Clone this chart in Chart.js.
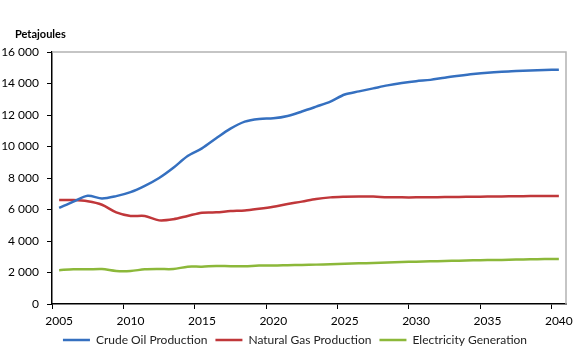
<!DOCTYPE html>
<html>
<head>
<meta charset="utf-8">
<script src="https://cdn.jsdelivr.net/npm/chart.js@4.4.1/dist/chart.umd.min.js"></script>
<style>
  html, body { margin: 0; padding: 0; background: #fff; }
  #wrap { width: 580px; height: 357px; position: relative; }
</style>
</head>
<body>
<div id="wrap"><canvas id="energyChart"></canvas></div>
<script>
// Years on the x axis
const years = [];
for (let y = 2005; y <= 2040; y++) years.push(String(y));

// Series (petajoules)
const crudeOil = [6100, 6500, 6870, 6700, 6850, 7100, 7500, 8000, 8650, 9400,
  9880, 10520, 11130, 11580, 11750, 11790, 11940, 12220, 12530, 12850,
  13300, 13500, 13690, 13880, 14030, 14150, 14230, 14370, 14490, 14600,
  14690, 14750, 14790, 14830, 14860, 14880];
const naturalGas = [6600, 6600, 6520, 6300, 5820, 5590, 5590, 5310, 5380, 5590,
  5800, 5820, 5900, 5940, 6050, 6180, 6350, 6500, 6670, 6770,
  6810, 6830, 6820, 6780, 6770, 6770, 6780, 6790, 6800, 6810,
  6820, 6830, 6840, 6850, 6860, 6860];
const electricity = [2150, 2200, 2200, 2220, 2100, 2100, 2200, 2220, 2220, 2370,
  2370, 2420, 2400, 2400, 2440, 2440, 2460, 2480, 2500, 2530,
  2560, 2580, 2600, 2630, 2660, 2690, 2710, 2730, 2750, 2770,
  2790, 2800, 2820, 2840, 2850, 2860];
const yTicks = [0, 2000, 4000, 6000, 8000, 10000, 12000, 14000, 16000];

const font = 'Lato, "Open Sans", sans-serif';

// space as thousands separator, e.g. 16 000
function fmt(v) {
  return String(v).replace(/\B(?=(\d{3})+(?!\d))/g, ' ');
}

// gray box on top/right of the plot, plus the unit label
const framePlugin = {
  id: 'frame',
  afterLayout(chart) {
    // legend sits a bit right of centre in the original
    if (chart.legend) {
      chart.legend.left += 12;
      chart.legend.right += 12;
      chart.legend.top -= 1;
      chart.legend.bottom -= 1;
    }
  },
  afterDatasetsDraw(chart) {
    const a = chart.chartArea;
    const ctx = chart.ctx;
    ctx.save();
    ctx.strokeStyle = '#b3b3b3';
    ctx.lineWidth = 1.5;
    ctx.beginPath();
    ctx.moveTo(a.left, a.top);
    ctx.lineTo(a.right, a.top);
    ctx.lineTo(a.right, a.bottom);
    ctx.stroke();
    ctx.restore();
  },
  afterDraw(chart) {
    const ctx = chart.ctx;
    ctx.save();
    ctx.font = 'bold 11px ' + font;
    ctx.fillStyle = '#000';
    ctx.textBaseline = 'middle';
    ctx.fillText('Petajoules', 15, 34);
    ctx.restore();
  }
};

function series(label, data, color) {
  return {
    label: label,
    data: data,
    borderColor: color,
    backgroundColor: color,
    borderWidth: 2.5,
    pointRadius: 0,
    fill: false,
    tension: 0.3
  };
}

new Chart(document.getElementById('energyChart'), {
  type: 'line',
  data: {
    labels: years,
    datasets: [
      series('Crude Oil Production', crudeOil, '#3570c0'),
      series('Natural Gas Production', naturalGas, '#c0373a'),
      series('Electricity Generation', electricity, '#8cb83a')
    ]
  },
  options: {
    responsive: true,
    maintainAspectRatio: false,
    animation: false,
    layout: { padding: { top: 52, right: 14, left: 0, bottom: 0 } },
    plugins: {
      legend: {
        position: 'bottom',
        labels: {
          font: { family: font, size: 12 },
          color: '#222',
          boxWidth: 27,
          boxHeight: 0,
          padding: 8
        }
      },
      tooltip: { enabled: false }
    },
    scales: {
      x: {
        offset: true,
        afterFit: function(scale) { scale.height = 23; },
        grid: {
          offset: true,
          drawOnChartArea: false,
          tickLength: 5,
          tickColor: function(c) { return c.index % 5 === 0 ? '#000' : 'rgba(0,0,0,0)'; }
        },
        border: { color: '#000', width: 1.5 },
        ticks: {
          autoSkip: false,
          maxRotation: 0,
          padding: 5,
          color: '#000',
          font: { family: font, size: 12 },
          callback: function(v, i) { return i % 5 === 0 ? years[i] : ''; }
        }
      },
      y: {
        min: 0,
        max: 16000,
        afterBuildTicks: function(scale) {
          scale.ticks = yTicks.map(function(v) { return { value: v }; });
        },
        afterFit: function(scale) { scale.width = 52; },
        grid: { drawOnChartArea: false, tickLength: 5, color: '#000' },
        border: { color: '#000', width: 1.5 },
        ticks: {
          padding: 8,
          color: '#000',
          font: { family: font, size: 12 },
          callback: function(v) { return fmt(v); }
        }
      }
    }
  },
  plugins: [framePlugin]
});
</script>
</body>
</html>
